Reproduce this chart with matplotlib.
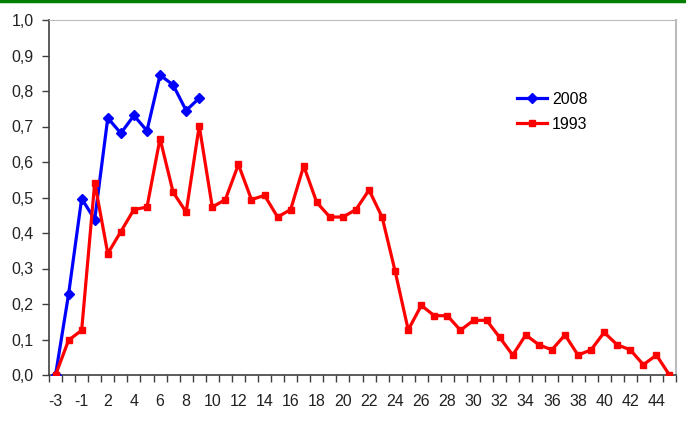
import matplotlib.pyplot as plt
import matplotlib.font_manager as fm

# categorie (manca lo zero)
cats = [-3, -2, -1] + list(range(1, 46))

val_2008 = [0.0, 0.228, 0.497, 0.438, 0.724, 0.681, 0.731, 0.688, 0.845, 0.817, 0.745, 0.780]

val_1993 = [0.0, 0.098, 0.126, 0.542, 0.342, 0.404, 0.466, 0.473, 0.666, 0.515,
            0.459, 0.702, 0.473, 0.494, 0.593, 0.494, 0.506, 0.445, 0.466, 0.589,
            0.486, 0.445, 0.445, 0.466, 0.521, 0.445, 0.292, 0.127, 0.196, 0.167,
            0.167, 0.126, 0.154, 0.154, 0.106, 0.056, 0.113, 0.085, 0.071, 0.113,
            0.056, 0.071, 0.120, 0.085, 0.071, 0.029, 0.056, 0.0]

y_ticks = [0.0, 0.1, 0.2, 0.3, 0.4, 0.5, 0.6, 0.7, 0.8, 0.9, 1.0]

narrow = 'Liberation Sans Narrow'
names = {f.name for f in fm.fontManager.ttflist}
if narrow in names:
    plt.rcParams['font.family'] = [narrow, 'DejaVu Sans']
else:
    plt.rcParams['font.family'] = ['Liberation Sans', 'DejaVu Sans']

fig = plt.figure(figsize=(6.86, 4.21), dpi=100)
ax = fig.add_axes([49 / 686, 46 / 421, 627 / 686, 355 / 421])

x = list(range(len(cats)))
ax.plot(x[:len(val_2008)], val_2008, color='#0000FF', lw=2.3, marker='D',
        markersize=5.5, label='2008', zorder=3)
ax.plot(x, val_1993, color='#FF0000', lw=2.3, marker='s',
        markersize=5, label='1993', zorder=3)

ax.set_xlim(-0.5, len(cats) - 0.5)
ax.set_ylim(0, 1.0)

ax.set_yticks(y_ticks)
ax.set_yticklabels([f'{v:.1f}'.replace('.', ',') for v in y_ticks], fontsize=11.5, color='#222222')

# tick sui bordi delle categorie, etichette ogni due categorie
ax.set_xticks([i - 0.5 for i in range(len(cats) + 1)])
ax.set_xticklabels([])
ax.set_xticks(x[::2], minor=True)
ax.set_xticklabels([str(c) for c in cats[::2]], minor=True, fontsize=11.5, color='#222222')
ax.tick_params(axis='x', which='major', direction='out', length=5, width=1, color='#404040')
ax.tick_params(axis='x', which='minor', length=0, pad=14)
ax.tick_params(axis='y', direction='out', length=5, width=1, color='#404040', pad=6)

for s in ['left', 'bottom']:
    ax.spines[s].set_color('#404040')
    ax.spines[s].set_linewidth(1.2)
ax.spines['top'].set_color('#BBBBBB')
ax.spines['right'].set_color('#BBBBBB')
ax.spines['right'].set_linewidth(1.5)

ax.legend(loc='upper left', bbox_to_anchor=(509 / 686, 1 - 84 / 421),
          bbox_transform=fig.transFigure, frameon=False, fontsize=11.5,
          handlelength=1.9, handletextpad=0.3, labelspacing=0.6, borderpad=0)

# barra verde in alto
fig.add_artist(plt.Line2D([0, 1], [1 - 1 / 421, 1 - 1 / 421], color='#008000', lw=2.5,
                          transform=fig.transFigure))

fig.savefig('out.png', dpi=100)
